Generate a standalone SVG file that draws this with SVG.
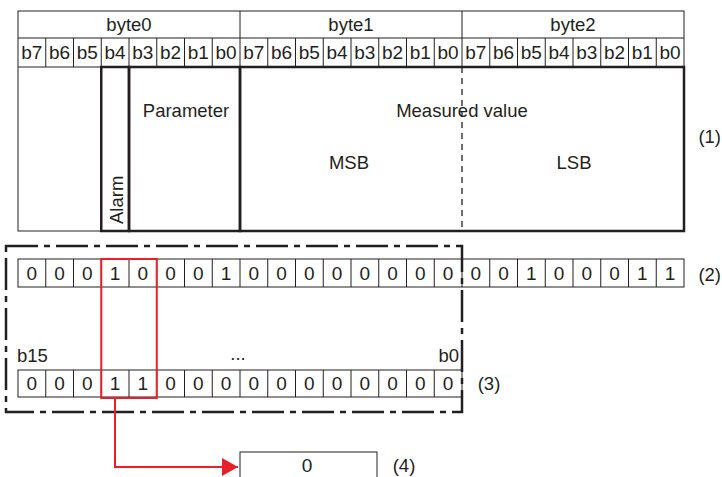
<svg xmlns="http://www.w3.org/2000/svg" width="722" height="477" viewBox="0 0 722 477">
<defs>
<style>
.t{font-family:"Liberation Sans",Arial,sans-serif;fill:#231f20;}
.b{font-size:19px;text-anchor:middle;}
.l{font-size:18.5px;}
.m{text-anchor:middle;}
.d{font-size:19px;text-anchor:middle;}
.thin{fill:none;stroke:#231f20;stroke-width:1;}
.thick{fill:none;stroke:#231f20;stroke-width:2.5;}
.red{fill:none;stroke:#e8202a;stroke-width:2;}
</style>
<marker id="ah" markerUnits="userSpaceOnUse" markerWidth="18" markerHeight="20" refX="16" refY="10" orient="auto">
<path d="M0,1 L16,10 L0,19 Z" fill="#e8202a"/>
</marker>
</defs>
<rect width="722" height="477" fill="#ffffff"/>

<g id="format-table">
<rect class="thin" x="18" y="11" width="666" height="220"/>
<path class="thin" d="M18,38H684M18,67H684M240,11V38M462,11V38"/>
<path class="thin" d="M45.75,38V67M73.5,38V67M101.25,38V67M129,38V67M156.75,38V67M184.5,38V67M212.25,38V67M240,38V67M267.75,38V67M295.5,38V67M323.25,38V67M351,38V67M378.75,38V67M406.5,38V67M434.25,38V67M462,38V67M489.75,38V67M517.5,38V67M545.25,38V67M573,38V67M600.75,38V67M628.5,38V67M656.25,38V67"/>
<rect class="thick" x="101.25" y="67" width="27.75" height="164"/>
<rect class="thick" x="129" y="67" width="111" height="164"/>
<rect class="thick" x="240" y="67" width="444" height="164"/>
<path d="M462,67V231" fill="none" stroke="#231f20" stroke-width="1.3" stroke-dasharray="6 5"/>
<text class="t l m" x="129" y="31">byte0</text>
<text class="t l m" x="351" y="31">byte1</text>
<text class="t l m" x="573" y="31">byte2</text>
<g class="t b">
<text x="31.875" y="59">b7</text><text x="59.625" y="59">b6</text><text x="87.375" y="59">b5</text><text x="115.125" y="59">b4</text>
<text x="142.875" y="59">b3</text><text x="170.625" y="59">b2</text><text x="198.375" y="59">b1</text><text x="226.125" y="59">b0</text>
<text x="253.875" y="59">b7</text><text x="281.625" y="59">b6</text><text x="309.375" y="59">b5</text><text x="337.125" y="59">b4</text>
<text x="364.875" y="59">b3</text><text x="392.625" y="59">b2</text><text x="420.375" y="59">b1</text><text x="448.125" y="59">b0</text>
<text x="475.875" y="59">b7</text><text x="503.625" y="59">b6</text><text x="531.375" y="59">b5</text><text x="559.125" y="59">b4</text>
<text x="586.875" y="59">b3</text><text x="614.625" y="59">b2</text><text x="642.375" y="59">b1</text><text x="670.125" y="59">b0</text>
</g>
<text class="t l m" x="186" y="117">Parameter</text>
<text class="t l m" x="462" y="117">Measured value</text>
<text class="t l m" x="349" y="169">MSB</text>
<text class="t l m" x="574" y="169">LSB</text>
<text class="t l" transform="translate(123,224) rotate(-90)">Alarm</text>
<text class="t l" x="721" y="143" text-anchor="end">(1)</text>
</g>

<g id="frame">
<rect x="6" y="246" width="456" height="166" fill="none" stroke="#231f20" stroke-width="2.5" stroke-dasharray="32 6 6 6"/>
</g>

<g id="row2">
<rect class="thin" x="18" y="259" width="666" height="28"/>
<path class="thin" d="M45.75,259V287M73.5,259V287M101.25,259V287M129,259V287M156.75,259V287M184.5,259V287M212.25,259V287M240,259V287M267.75,259V287M295.5,259V287M323.25,259V287M351,259V287M378.75,259V287M406.5,259V287M434.25,259V287M462,259V287M489.75,259V287M517.5,259V287M545.25,259V287M573,259V287M600.75,259V287M628.5,259V287M656.25,259V287"/>
<g class="t d">
<text x="31.875" y="280">0</text><text x="59.625" y="280">0</text><text x="87.375" y="280">0</text><text x="115.125" y="280">1</text>
<text x="142.875" y="280">0</text><text x="170.625" y="280">0</text><text x="198.375" y="280">0</text><text x="226.125" y="280">1</text>
<text x="253.875" y="280">0</text><text x="281.625" y="280">0</text><text x="309.375" y="280">0</text><text x="337.125" y="280">0</text>
<text x="364.875" y="280">0</text><text x="392.625" y="280">0</text><text x="420.375" y="280">0</text><text x="448.125" y="280">0</text>
<text x="475.875" y="280">0</text><text x="503.625" y="280">0</text><text x="531.375" y="280">1</text><text x="559.125" y="280">0</text>
<text x="586.875" y="280">0</text><text x="614.625" y="280">0</text><text x="642.375" y="280">1</text><text x="670.125" y="280">1</text>
</g>
<text class="t l" x="721" y="281" text-anchor="end">(2)</text>
</g>

<g id="row3">
<text class="t l" x="17" y="362">b15</text>
<text class="t l m" x="238" y="360">...</text>
<text class="t l" x="459" y="362" text-anchor="end">b0</text>
<rect class="thin" x="18" y="370" width="444" height="27"/>
<path class="thin" d="M45.75,370V397M73.5,370V397M101.25,370V397M129,370V397M156.75,370V397M184.5,370V397M212.25,370V397M240,370V397M267.75,370V397M295.5,370V397M323.25,370V397M351,370V397M378.75,370V397M406.5,370V397M434.25,370V397"/>
<g class="t d">
<text x="31.875" y="390">0</text><text x="59.625" y="390">0</text><text x="87.375" y="390">0</text><text x="115.125" y="390">1</text>
<text x="142.875" y="390">1</text><text x="170.625" y="390">0</text><text x="198.375" y="390">0</text><text x="226.125" y="390">0</text>
<text x="253.875" y="390">0</text><text x="281.625" y="390">0</text><text x="309.375" y="390">0</text><text x="337.125" y="390">0</text>
<text x="364.875" y="390">0</text><text x="392.625" y="390">0</text><text x="420.375" y="390">0</text><text x="448.125" y="390">0</text>
</g>
<text class="t l m" x="489" y="390">(3)</text>
</g>

<g id="highlight">
<rect class="red" x="101.25" y="259" width="55.5" height="139"/>
</g>

<g id="result">
<rect class="thin" x="240" y="452" width="137" height="40"/>
<text class="t d" x="307" y="472">0</text>
<text class="t l m" x="404" y="472">(4)</text>
</g>

<g id="connectors">
<path class="red" d="M115,398V467H238" marker-end="url(#ah)"/>
</g>
</svg>
